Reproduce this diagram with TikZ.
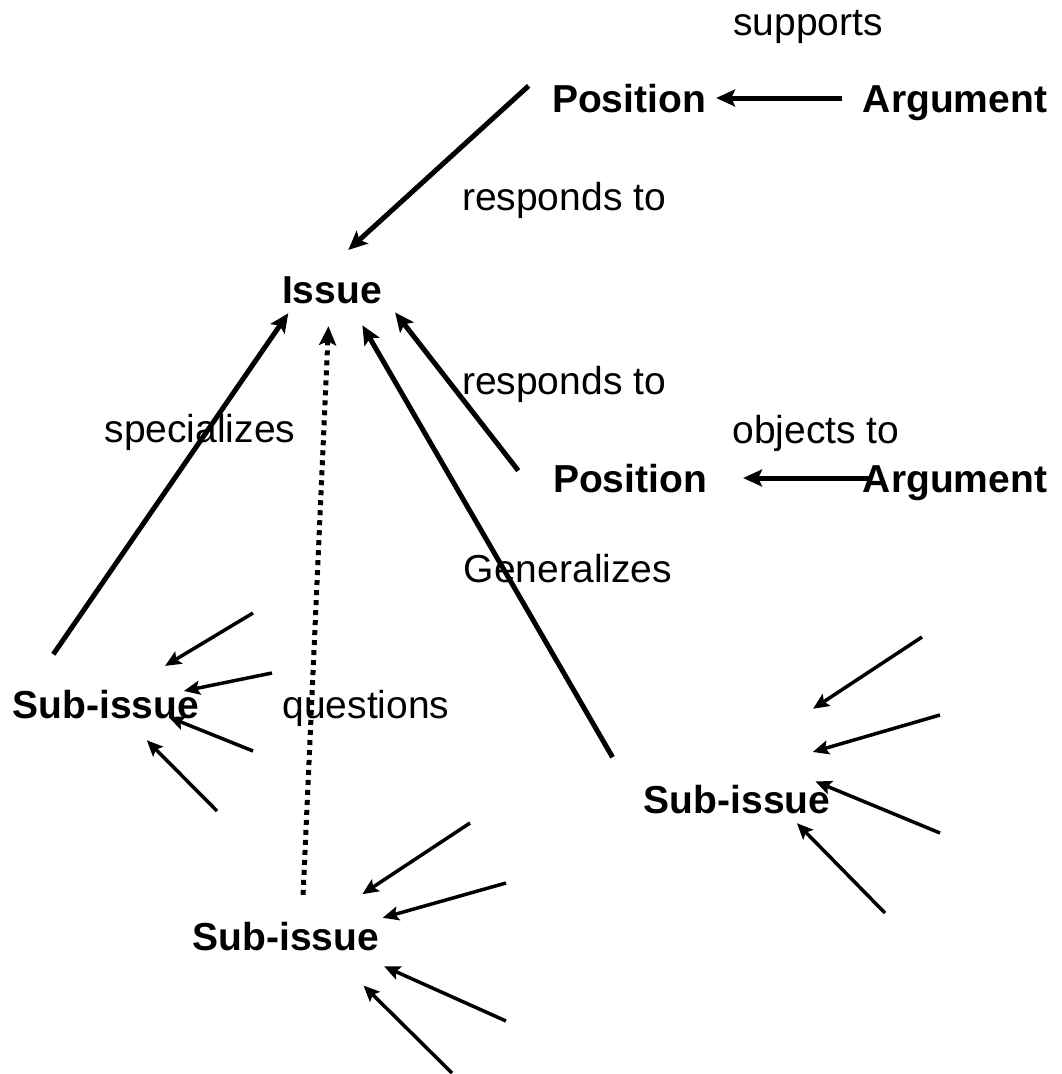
\documentclass[tikz,border=0pt]{standalone}
\usepackage{fontspec}
\setmainfont{Liberation Sans}
\usetikzlibrary{arrows.meta}

\begin{document}
\begin{tikzpicture}[
            x=1pt, y=-1pt,
            concept/.style={font=\fontsize{39}{47}\selectfont\bfseries, anchor=base, text height=28pt, text depth=0pt, inner xsep=10pt, inner ysep=10pt},
            relation/.style={font=\fontsize{39}{47}\selectfont, anchor=base},
            link/.style={draw, line width=5pt, -{Stealth[length=19pt, width=17pt, inset=4pt]}},
            dotlink/.style={link, dash pattern=on 5pt off 5pt},
            feeder/.style={draw, line width=3.5pt, -{Stealth[length=16pt, width=14pt, inset=3pt]}}
        ]
        \useasboundingbox (0,0) rectangle (1062,1074);

        % Top row
        \node[relation] (supports) at (808,35) {supports};
        \node[concept] (pos1) at (629,112) {Position};
        \node[concept] (arg1) at (955,112) {Argument};
        \node[relation] (resp1) at (564,210) {responds to};

        % Issue and its second position
        \node[concept] (issue) at (332,303) {Issue};
        \node[relation] (resp2) at (564,394) {responds to};
        \node[relation] (spec) at (200,442) {specializes};
        \node[relation] (objects) at (816,443) {objects to};
        \node[concept] (pos2) at (630,492) {Position};
        \node[concept] (arg2) at (955,492) {Argument};
        \node[relation] (gen) at (568,582) {Generalizes};

        % Sub-issues
        \node[concept] (sub1) at (106,718) {Sub-issue};
        \node[relation] (quest) at (366,718) {questions};
        \node[concept] (sub3) at (737,813) {Sub-issue};
        \node[concept] (sub2) at (286,950) {Sub-issue};

        % Loose tails of the incoming arrows
        \coordinate (in1a) at (253,613);
        \coordinate (in1b) at (272,673);
        \coordinate (in1c) at (253,751);
        \coordinate (in1d) at (217,811);
        \coordinate (in2a) at (470,823);
        \coordinate (in2b) at (506,883);
        \coordinate (in2c) at (506,1021);
        \coordinate (in2d) at (452,1073);
        \coordinate (in3a) at (922,637);
        \coordinate (in3b) at (940,715);
        \coordinate (in3c) at (940,833);
        \coordinate (in3d) at (885,913);

        \draw[link, shorten <=11pt] (arg1.west) -- (pos1.east);
        \draw[link, shorten <=-17pt, shorten >=26pt] (arg2.west) -- (pos2.east);

        \draw[link, shorten <=18pt, shorten >=22pt] (pos1.north west) -- (issue.north);
        \draw[link, shorten <=40pt, shorten >=5pt] (pos2.south west) -- (issue.-18);
        \draw[link, shorten <=42pt, shorten >=14pt] (sub3.177) -- (issue.-46);
        \draw[link, shorten <=31pt] (sub1.161) -- (issue.-151);
        \draw[dotlink, shorten <=17pt, shorten >=13pt] (sub2.56) -- (issue.-97);

        \draw[feeder, shorten >=27pt] (in1a) -- (sub1.34);
        \draw[feeder, shorten >=-26pt] (in1b) -- (sub1.10);
        \draw[feeder, shorten >=-30pt] (in1c) -- (sub1.-15);
        \draw[feeder, shorten >=17pt] (in1d) -- (sub1.-40);

        \draw[feeder, shorten >=32pt] (in2a) -- (sub2.26);
        \draw[feeder, shorten >=-7pt] (in2b) -- (sub2.11);
        \draw[feeder, shorten >=15pt] (in2c) -- (sub2.-16);
        \draw[feeder, shorten >=36pt] (in2d) -- (sub2.-25);

        \draw[feeder, shorten >=120pt] (in3a) -- (sub3.135);
        \draw[feeder, shorten >=82pt] (in3b) -- (sub3.97);
        \draw[feeder, shorten >=-27pt] (in3c) -- (sub3.4);
        \draw[feeder] (in3d) -- (sub3.-22);

    \end{tikzpicture}
\end{document}
